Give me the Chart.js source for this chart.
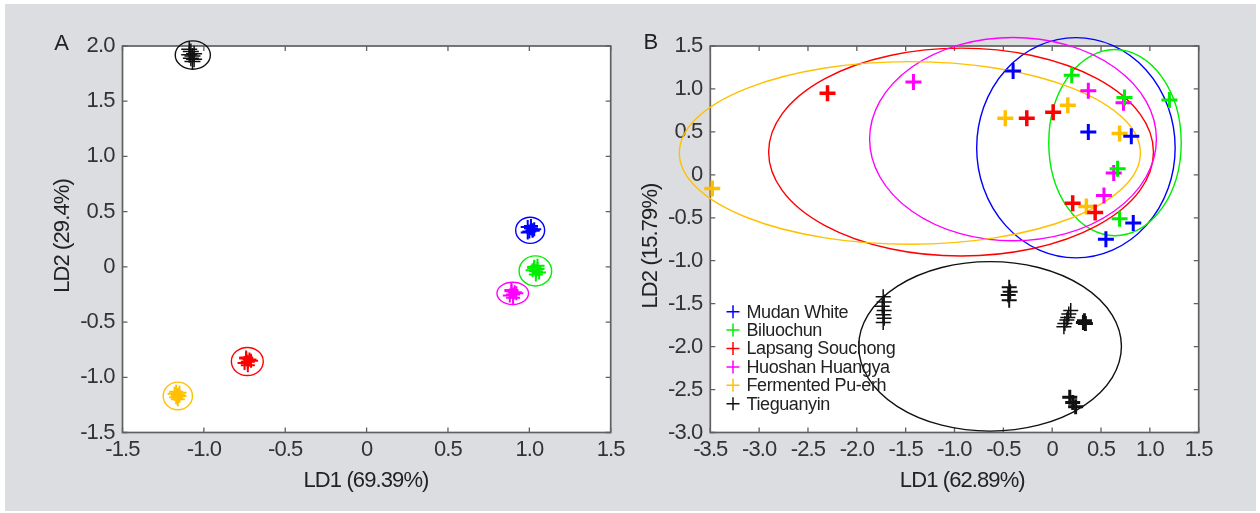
<!DOCTYPE html>
<html>
<head>
<meta charset="utf-8">
<script src="https://cdn.jsdelivr.net/npm/chart.js@4.4.0/dist/chart.umd.min.js"></script>
<style>
html, body { margin: 0; padding: 0; background: #fff; }
#bg { position: absolute; left: 5px; top: 4px; width: 1251px; height: 507px; background: #dcdde0; }
.box { position: absolute; top: 0; width: 630px; height: 513px; }
</style>
</head>
<body>
<div id="bg"></div>
<div class="box" style="left:0px"><canvas id="chartA"></canvas></div>
<div class="box" style="left:630px"><canvas id="chartB"></canvas></div>
<script>
// tea groups and their colours
var groups = ['Mudan White', 'Biluochun', 'Lapsang Souchong', 'Huoshan Huangya', 'Fermented Pu-erh', 'Tieguanyin'];
var colors = ['#0000ff', '#00ee00', '#ff0000', '#ff00ff', '#ffc000', '#111111'];

// panel A scores (one sub-array per group, same order as groups)
var ld1A = [
  [0.99, 1.01, 1.02, 1.00, 1.03, 1.01, 0.99, 1.02],
  [1.03, 1.05, 1.04, 1.02, 1.06, 1.04, 1.03, 1.05],
  [-0.74, -0.72, -0.73, -0.75, -0.71, -0.73, -0.74],
  [0.89, 0.91, 0.90, 0.88, 0.92, 0.90, 0.89],
  [-1.17, -1.15, -1.16, -1.17, -1.15, -1.16, -1.18],
  [-1.09, -1.08, -1.06, -1.07, -1.08, -1.06, -1.07, -1.09]
];
var ld2A = [
  [0.36, 0.35, 0.33, 0.32, 0.34, 0.37, 0.31, 0.33],
  [0.00, -0.02, -0.04, -0.03, -0.05, -0.07, -0.01, 0.01],
  [-0.83, -0.84, -0.86, -0.87, -0.85, -0.89, -0.82],
  [-0.22, -0.23, -0.25, -0.26, -0.24, -0.28, -0.21],
  [-1.13, -1.14, -1.16, -1.18, -1.17, -1.20, -1.15],
  [1.97, 1.95, 1.93, 1.91, 1.89, 1.88, 1.86, 1.92]
];
// panel A group circles: centre and radii in LD units
var ellA_cx = [1.005, 1.037, -0.733, 0.898, -1.160, -1.068];
var ellA_cy = [0.331, -0.037, -0.857, -0.240, -1.169, 1.918];
var ellA_rx = [0.089, 0.100, 0.098, 0.097, 0.090, 0.108];
var ellA_ry = [0.118, 0.136, 0.127, 0.101, 0.125, 0.128];

// panel B scores
var ld1B = [
  [-0.40, 0.37, 0.81, 0.83, 0.55],
  [0.20, 0.74, 1.20, 0.67, 0.69],
  [-2.30, -0.26, 0.01, 0.21, 0.44],
  [-1.42, 0.37, 0.73, 0.63, 0.53],
  [-3.48, -0.48, 0.16, 0.69, 0.35],
  [-1.73, -1.72, -1.74, -1.72, -1.73, -1.72, -1.73,
   -0.44, -0.43, -0.45, -0.44,
   0.19, 0.17, 0.16, 0.15, 0.13, 0.12,
   0.33, 0.32, 0.34,
   0.18, 0.21, 0.24]
];
var ld2B = [
  [1.21, 0.50, 0.45, -0.56, -0.75],
  [1.16, 0.90, 0.87, 0.07, -0.51],
  [0.95, 0.66, 0.73, -0.33, -0.44],
  [1.08, 0.98, 0.84, 0.02, -0.24],
  [-0.16, 0.66, 0.81, 0.48, -0.37],
  [-1.42, -1.48, -1.53, -1.58, -1.63, -1.67, -1.72,
   -1.31, -1.36, -1.40, -1.46,
   -1.58, -1.62, -1.66, -1.69, -1.73, -1.77,
   -1.70, -1.72, -1.73,
   -2.59, -2.65, -2.70]
];
var ellB_cx = [0.243, 0.643, -0.933, -0.401, -1.457, -0.636];
var ellB_cy = [0.315, 0.375, 0.265, 0.416, 0.255, -1.997];
var ellB_rx = [1.016, 0.678, 1.970, 1.468, 2.360, 1.345];
var ellB_ry = [1.282, 1.084, 1.210, 1.183, 1.063, 0.987];

// tick values and labels
var ticksAx = [-1.5, -1.0, -0.5, 0, 0.5, 1.0, 1.5];
var labelsAx = ['-1.5', '-1.0', '-0.5', '0', '0.5', '1.0', '1.5'];
var ticksAy = [-1.5, -1.0, -0.5, 0, 0.5, 1.0, 1.5, 2.0];
var labelsAy = ['-1.5', '-1.0', '-0.5', '0', '0.5', '1.0', '1.5', '2.0'];
var ticksBx = [-3.5, -3.0, -2.5, -2.0, -1.5, -1.0, -0.5, 0, 0.5, 1.0, 1.5];
var labelsBx = ['-3.5', '-3.0', '-2.5', '-2.0', '-1.5', '-1.0', '-0.5', '0', '0.5', '1.0', '1.5'];
var ticksBy = [-3.0, -2.5, -2.0, -1.5, -1.0, -0.5, 0, 0.5, 1.0, 1.5];
var labelsBy = ['-3.0', '-2.5', '-2.0', '-1.5', '-1.0', '-0.5', '0', '0.5', '1.0', '1.5'];

var FONT = '"Liberation Sans", Arial, sans-serif';
Chart.defaults.font.family = FONT;

// white plot box, inward tick marks and the group ellipses
var boxPlugin = {
  id: 'box',
  beforeDraw: function(chart) {
    var a = chart.chartArea, c = chart.ctx;
    c.letterSpacing = '-0.9px';
    c.save();
    c.fillStyle = '#fff';
    c.fillRect(a.left, a.top, a.right - a.left, a.bottom - a.top);
    c.restore();
  },
  beforeDatasetsDraw: function(chart, args, opts) {
    var a = chart.chartArea, c = chart.ctx;
    var xs = chart.scales.x, ys = chart.scales.y;
    c.save();
    c.strokeStyle = '#606060';
    c.lineWidth = 1.7;
    c.strokeRect(a.left, a.top, a.right - a.left, a.bottom - a.top);
    c.lineWidth = 1.3;
    c.beginPath();
    xs.ticks.forEach(function(t) {
      var p = xs.getPixelForValue(t.value);
      c.moveTo(p, a.top); c.lineTo(p, a.top + 5);
      c.moveTo(p, a.bottom); c.lineTo(p, a.bottom - 5);
    });
    ys.ticks.forEach(function(t) {
      var p = ys.getPixelForValue(t.value);
      c.moveTo(a.left, p); c.lineTo(a.left + 5, p);
      c.moveTo(a.right, p); c.lineTo(a.right - 5, p);
    });
    c.stroke();
    // ellipses
    var e = opts.ellipses;
    c.lineWidth = 1.4;
    for (var i = 0; i < e.cx.length; i++) {
      var cx = xs.getPixelForValue(e.cx[i]);
      var cy = ys.getPixelForValue(e.cy[i]);
      var rx = Math.abs(xs.getPixelForValue(e.cx[i] + e.rx[i]) - cx);
      var ry = Math.abs(ys.getPixelForValue(e.cy[i] + e.ry[i]) - cy);
      c.strokeStyle = colors[i];
      c.beginPath();
      c.ellipse(cx, cy, rx, ry, 0, 0, Math.PI * 2);
      c.stroke();
    }
    c.restore();
  },
  afterDraw: function(chart, args, opts) {
    var c = chart.ctx;
    c.save();
    c.fillStyle = '#222';
    c.textAlign = 'center';
    c.textBaseline = 'middle';
    c.font = '22px ' + FONT;
    c.fillText(opts.letter[0], opts.letter[1], opts.letter[2]);
    c.fillText(opts.xTitle[0], opts.xTitle[1], opts.xTitle[2]);
    c.translate(opts.yTitle[1], opts.yTitle[2]);
    c.rotate(-Math.PI / 2);
    c.fillText(opts.yTitle[0], 0, 0);
    c.restore();
    // legend drawn inside the plot box
    if (opts.legend) {
      var L = opts.legend;
      c.save();
      c.font = '18px ' + FONT;
      c.letterSpacing = '-0.4px';
      c.textAlign = 'left';
      c.textBaseline = 'middle';
      chart.data.datasets.forEach(function(ds, i) {
        var y = L.y + i * L.step;
        c.strokeStyle = ds.borderColor;
        c.lineWidth = 1.5;
        c.beginPath();
        c.moveTo(L.x - 6.5, y); c.lineTo(L.x + 6.5, y);
        c.moveTo(L.x, y - 6.5); c.lineTo(L.x, y + 6.5);
        c.stroke();
        c.fillStyle = '#222';
        c.fillText(ds.label, L.x + 13.5, y + 1);
      });
      c.restore();
    }
  }
};

function makePanel(id, cfg) {
  var datasets = groups.map(function(g, i) {
    return {
      label: g,
      data: cfg.ld1[i].map(function(x, j) { return { x: x, y: cfg.ld2[i][j] }; }),
      borderColor: colors[i],
      backgroundColor: colors[i],
      pointStyle: 'cross',
      pointRadius: cfg.radius[i],
      pointBorderWidth: cfg.width[i],
      pointHoverRadius: cfg.radius[i],
      clip: false
    };
  });
  var area = cfg.area;
  return new Chart(document.getElementById(id), {
    type: 'scatter',
    data: { datasets: datasets },
    options: {
      responsive: true,
      maintainAspectRatio: false,
      animation: false,
      layout: { padding: { left: 0, top: area.top, right: 630 - area.right, bottom: 0 } },
      plugins: {
        legend: { display: false },
        tooltip: { enabled: false },
        box: {
          ellipses: cfg.ellipses,
          letter: cfg.letter,
          xTitle: cfg.xTitle,
          yTitle: cfg.yTitle,
          legend: cfg.legend
        }
      },
      scales: {
        x: {
          type: 'linear',
          min: cfg.xTicks[0],
          max: cfg.xTicks[cfg.xTicks.length - 1],
          afterBuildTicks: function(s) { s.ticks = cfg.xTicks.map(function(v) { return { value: v }; }); },
          afterFit: function(s) { s.height = 513 - area.bottom; },
          ticks: {
            autoSkip: false, maxRotation: 0, padding: 4, color: '#333',
            font: { size: 22 },
            callback: function(v, i) { return cfg.xLabels[i]; }
          },
          grid: { display: false, drawTicks: false },
          border: { display: false }
        },
        y: {
          type: 'linear',
          min: cfg.yTicks[0],
          max: cfg.yTicks[cfg.yTicks.length - 1],
          afterBuildTicks: function(s) { s.ticks = cfg.yTicks.map(function(v) { return { value: v }; }); },
          afterFit: function(s) { s.width = area.left; },
          ticks: {
            autoSkip: false, padding: 8, color: '#333',
            font: { size: 22 },
            callback: function(v, i) { return cfg.yLabels[i]; }
          },
          grid: { display: false, drawTicks: false },
          border: { display: false }
        }
      }
    },
    plugins: [boxPlugin]
  });
}

makePanel('chartA', {
  ld1: ld1A, ld2: ld2A,
  radius: [7, 7, 7, 7, 7, 8],
  width: [2, 2, 2, 2, 2, 1.5],
  ellipses: { cx: ellA_cx, cy: ellA_cy, rx: ellA_rx, ry: ellA_ry },
  xTicks: ticksAx, xLabels: labelsAx, yTicks: ticksAy, yLabels: labelsAy,
  area: { left: 122.5, right: 613.7, top: 46, bottom: 432.5 },
  letter: ['A', 61.2, 44.2],
  xTitle: ['LD1 (69.39%)', 366, 481],
  yTitle: ['LD2 (29.4%)', 63, 236]
});

makePanel('chartB', {
  ld1: ld1B, ld2: ld2B,
  radius: [8, 8, 8, 8, 8, 7.5],
  width: [3, 3, 3.5, 3, 3.5, [1.5, 1.5, 1.5, 1.5, 1.5, 1.5, 1.5, 2, 2, 2, 2, 1.5, 1.5, 1.5, 1.5, 1.5, 1.5, 3, 3, 3, 3, 3, 3]],
  ellipses: { cx: ellB_cx, cy: ellB_cy, rx: ellB_rx, ry: ellB_ry },
  xTicks: ticksBx, xLabels: labelsBx, yTicks: ticksBy, yLabels: labelsBy,
  area: { left: 80.3, right: 568.7, top: 46, bottom: 432.5 },
  letter: ['B', 20.5, 43.3],
  xTitle: ['LD1 (62.89%)', 332.3, 481],
  yTitle: ['LD2 (15.79%)', 20.7, 246],
  legend: { x: 103, y: 311.7, step: 18.4 }
});
</script>
</body>
</html>
